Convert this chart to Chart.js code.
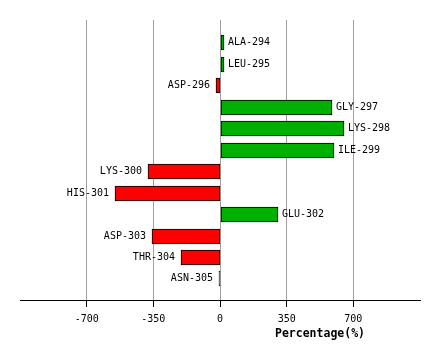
<!DOCTYPE html>
<html>
<head>
<meta charset="utf-8">
<script src="https://cdn.jsdelivr.net/npm/chart.js@4/dist/chart.umd.min.js"></script>
<style>
html,body{margin:0;padding:0;background:#fff;}
canvas{display:block;}
</style>
</head>
<body>
<canvas id="c" width="440" height="360"></canvas>
<script>
const categories = ["ALA-294","LEU-295","ASP-296","GLY-297","LYS-298","ILE-299","LYS-300","HIS-301","GLU-302","ASP-303","THR-304","ASN-305"];
const percentages = [20, 20, -21, 586, 653, 600, -380, -550, 303, -355, -203, -6];
const xTicks = [-700, -350, 0, 350, 700];
const xTitle = "Percentage(%)";

const FONT = "'DejaVu Sans Mono', monospace";

// snap library-computed bar geometry to whole pixels for crisp borders
const snapPlugin = {
  id: 'snapBars',
  beforeDatasetsDraw(chart) {
    chart.getDatasetMeta(0).data.forEach(bar => {
      bar.x = Math.round(bar.x);
      bar.base = Math.round(bar.base);
      bar.y = Math.floor(bar.y) + 0.5;
    });
  }
};

const labelPlugin = {
  id: 'barLabels',
  afterDatasetsDraw(chart) {
    const ctx = chart.ctx;
    const meta = chart.getDatasetMeta(0);
    ctx.save();
    ctx.font = "10px " + FONT;
    ctx.fillStyle = "#000";
    ctx.textBaseline = "middle";
    meta.data.forEach((bar, i) => {
      const v = percentages[i];
      if (v > 0) {
        ctx.textAlign = "left";
        ctx.fillText(categories[i], bar.x + 4, bar.y);
      } else {
        ctx.textAlign = "right";
        ctx.fillText(categories[i], bar.x - 6, bar.y);
      }
    });
    const xs = chart.scales.x;
    ctx.font = "bold 11.5px " + FONT;
    ctx.textAlign = "center";
    ctx.fillText(xTitle, xs.getPixelForValue(525), 334);
    ctx.restore();
  }
};

new Chart(document.getElementById('c'), {
  type: 'bar',
  data: {
    datasets: [{
      data: percentages.map((v, i) => ({x: v, y: i + 1})),
      backgroundColor: percentages.map(v => v >= 0 ? '#00b000' : '#ff0000'),
      borderColor: '#000',
      borderWidth: 1,
      borderSkipped: false,
      barThickness: 15
    }]
  },
  options: {
    responsive: false,
    animation: false,
    indexAxis: 'y',
    layout: {padding: {left: 20, right: 20, top: 20, bottom: 20}},
    plugins: {legend: {display: false}, tooltip: {enabled: false}},
    scales: {
      y: {
        type: 'linear', min: -0.07, max: 12.98, reverse: true, display: true, offset: false,
        afterFit: s => { s.width = 0; },
        ticks: {display: false},
        grid: {display: false, offset: false},
        border: {display: false}
      },
      x: {
        type: 'linear', min: -1050, max: 1050,
        afterBuildTicks: s => { s.ticks = xTicks.map(v => ({value: v})); },
        afterFit: s => { s.height = 40; },
        grid: {color: '#a0a0a0', tickColor: '#000', tickLength: 7, lineWidth: 1},
        border: {display: true, color: '#000', width: 1},
        ticks: {color: '#000', font: {family: FONT, size: 10}, padding: 6, maxRotation: 0}
      }
    }
  },
  plugins: [snapPlugin, labelPlugin]
});
</script>
</body>
</html>
